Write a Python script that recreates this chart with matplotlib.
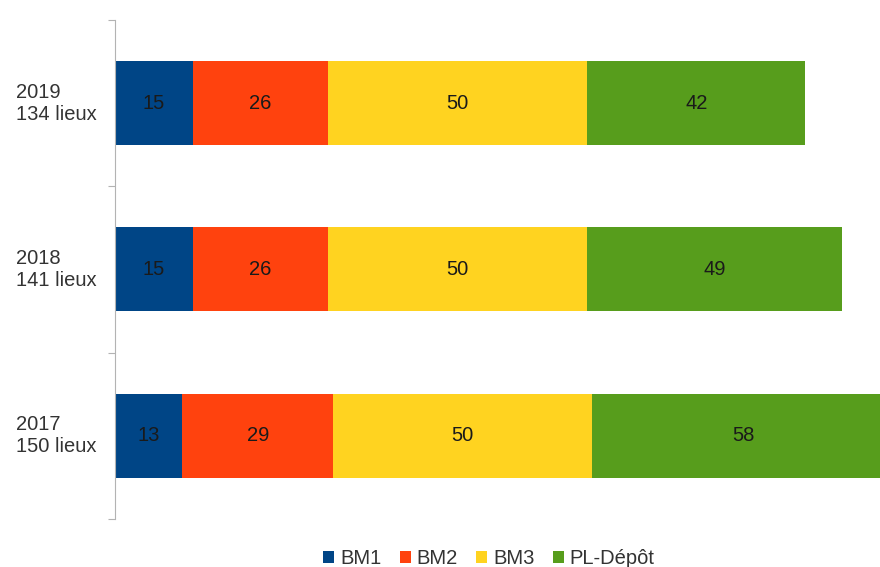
import matplotlib.pyplot as plt
from matplotlib.patches import Patch
from matplotlib.transforms import blended_transform_factory

plt.rcParams['font.family'] = ['Liberation Sans', 'DejaVu Sans']

# donnees du graphique
annees = ["2019\n134 lieux", "2018\n141 lieux", "2017\n150 lieux"]
series = ["BM1", "BM2", "BM3", "PL-Dépôt"]
bm1 = [15, 15, 13]
bm2 = [26, 26, 29]
bm3 = [50, 50, 50]
pl_depot = [42, 49, 58]
couleurs = ["#004586", "#ff420e", "#ffd320", "#579d1c"]

fig = plt.figure(figsize=(8.8, 5.67), dpi=100)
ax = fig.add_axes([0.1307, 0.0847, 0.8693, 0.88])

y = list(range(len(annees)))
gauche = [0] * len(annees)
for valeurs, coul in zip([bm1, bm2, bm3, pl_depot], couleurs):
    ax.barh(y, valeurs, left=gauche, height=0.505, color=coul, linewidth=0)
    for yi, g, v in zip(y, gauche, valeurs):
        ax.text(g + v / 2, yi, str(v), ha='center', va='center',
                fontsize=14.5, color='#1a1a1a')
    gauche = [g + v for g, v in zip(gauche, valeurs)]

ax.set_xlim(0, 147.4)
ax.set_ylim(2.5, -0.5)

# axe vertical avec graduations entre categories
for s in ['top', 'right', 'bottom']:
    ax.spines[s].set_visible(False)
ax.spines['left'].set_color('#b3b3b3')
ax.set_xticks([])
ax.set_yticks([-0.5, 0.5, 1.5, 2.5])
ax.set_yticklabels([])
ax.tick_params(axis='y', length=5, color='#b3b3b3', direction='out')

trans = blended_transform_factory(fig.transFigure, ax.transData)
for yi, lab in zip(y, annees):
    ax.text(16 / 880, yi, lab, transform=trans, ha='left', va='center',
            fontsize=14.5, color='#333333', linespacing=1.2)

poignees = [Patch(facecolor=c, edgecolor='none') for c in couleurs]
fig.legend(poignees, series, loc='center', bbox_to_anchor=(489 / 880, 0.015),
           ncol=4, frameon=False, fontsize=14.5, handlelength=0.55,
           handleheight=0.55, handletextpad=0.3, columnspacing=0.9,
           borderpad=0, labelcolor='#333333')

fig.savefig("out.png", dpi=100)
